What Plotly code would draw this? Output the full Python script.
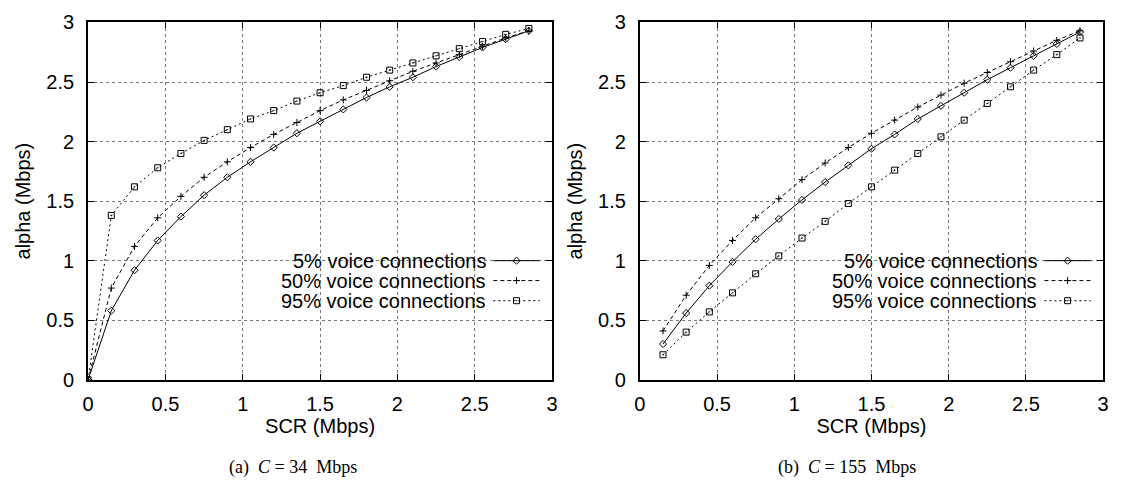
import plotly.graph_objects as go

# ---------------- data ----------------
scr_a = [0, 0.15, 0.3, 0.45, 0.6, 0.75, 0.9, 1.05, 1.2, 1.35, 1.5, 1.65, 1.8, 1.95, 2.1, 2.25, 2.4, 2.55, 2.7, 2.85]
a_voice5 = [0, 0.58, 0.92, 1.17, 1.37, 1.55, 1.70, 1.83, 1.95, 2.07, 2.17, 2.27, 2.37, 2.46, 2.54, 2.63, 2.71, 2.79, 2.86, 2.93]
a_voice50 = [0, 0.77, 1.12, 1.36, 1.54, 1.70, 1.83, 1.95, 2.06, 2.16, 2.26, 2.35, 2.43, 2.51, 2.59, 2.66, 2.73, 2.80, 2.87, 2.93]
a_voice95 = [0, 1.38, 1.62, 1.78, 1.90, 2.01, 2.10, 2.19, 2.26, 2.34, 2.41, 2.47, 2.54, 2.60, 2.66, 2.72, 2.78, 2.84, 2.90, 2.95]

scr_b = [0.15, 0.3, 0.45, 0.6, 0.75, 0.9, 1.05, 1.2, 1.35, 1.5, 1.65, 1.8, 1.95, 2.1, 2.25, 2.4, 2.55, 2.7, 2.85]
b_voice5 = [0.30, 0.56, 0.79, 0.99, 1.18, 1.35, 1.51, 1.66, 1.80, 1.94, 2.06, 2.19, 2.30, 2.41, 2.52, 2.62, 2.72, 2.82, 2.92]
b_voice50 = [0.41, 0.71, 0.96, 1.17, 1.36, 1.52, 1.68, 1.82, 1.95, 2.07, 2.18, 2.29, 2.39, 2.49, 2.58, 2.67, 2.76, 2.85, 2.93]
b_voice95 = [0.21, 0.40, 0.57, 0.73, 0.89, 1.04, 1.19, 1.33, 1.48, 1.62, 1.76, 1.90, 2.04, 2.18, 2.32, 2.46, 2.60, 2.73, 2.87]

series_names = ["5% voice connections", "50% voice connections", "95% voice connections"]
tick_vals = [0, 0.5, 1, 1.5, 2, 2.5, 3]
x_title = "SCR (Mbps)"
y_title = "alpha (Mbps)"
captions = ["(a)&nbsp;&nbsp;<i>C</i> = 34&nbsp;&nbsp;Mbps", "(b)&nbsp;&nbsp;<i>C</i> = 155&nbsp;&nbsp;Mbps"]

# ---------------- styles ----------------
styles = [
    dict(dash="solid", symbol="diamond-open", size=5.5),
    dict(dash="4px,3px", symbol="cross-thin-open", size=5),
    dict(dash="2px,3px", symbol="square-open-dot", size=6),
]
SANS = "Liberation Sans, Arial, sans-serif"
SERIF = "Liberation Serif, Times New Roman, serif"
FS = 20

fig = go.Figure()

panels = [
    ("x", "y", scr_a, [a_voice5, a_voice50, a_voice95]),
    ("x2", "y2", scr_b, [b_voice5, b_voice50, b_voice95]),
]

for xa, ya, xs, ys_list in panels:
    for ys, st in zip(ys_list, styles):
        fig.add_trace(go.Scatter(
            x=xs, y=ys, xaxis=xa, yaxis=ya, mode="lines+markers",
            line=dict(color="black", width=1, dash=st["dash"]),
            marker=dict(symbol=st["symbol"], size=st["size"], color="black",
                        line=dict(color="black", width=1)),
            showlegend=False, hoverinfo="skip"))

# gnuplot-style key: text then sample line with marker
key_rows = [1.0, 0.833, 0.664]
key_text_x = 2.585
key_line = (2.62, 2.92)
key_mark = 2.77
for xa, ya, _, _ in panels:
    for name, st, ky in zip(series_names, styles, key_rows):
        fig.add_annotation(x=key_text_x, y=ky, xref=xa, yref=ya, text=name,
                           showarrow=False, xanchor="right", yanchor="middle",
                           font=dict(family=SANS, size=FS, color="black"))
        fig.add_shape(type="line", xref=xa, yref=ya, x0=key_line[0], x1=key_line[1],
                      y0=ky, y1=ky, line=dict(color="black", width=1, dash=st["dash"]))
        fig.add_trace(go.Scatter(
            x=[key_mark], y=[ky], xaxis=xa, yaxis=ya, mode="markers",
            marker=dict(symbol=st["symbol"], size=st["size"], color="black",
                        line=dict(color="black", width=1)),
            showlegend=False, hoverinfo="skip"))

axis_common = dict(
    range=[0, 3], tickvals=tick_vals, showline=True, linecolor="black", linewidth=2,
    mirror="ticks", ticks="inside", ticklen=6, tickwidth=1, tickcolor="black",
    showgrid=True, gridcolor="#777777", gridwidth=1, griddash="dot",
    zeroline=False, tickfont=dict(family=SANS, size=FS, color="black"),
    title_font=dict(family=SANS, size=FS, color="black"),
)

W, H = 1121, 493
left_dom = [83 / W, 552 / W]
right_dom = [640.7 / W, 1109 / W]
y_dom = [1 - 386 / H, 1 - 12 / H]

fig.update_layout(
    width=W, height=H, margin=dict(l=0, r=0, t=0, b=0),
    paper_bgcolor="white", plot_bgcolor="white",
    xaxis=dict(domain=left_dom, anchor="y", title=dict(text=x_title, standoff=0),
               ticklabelstandoff=5, **axis_common),
    yaxis=dict(domain=y_dom, anchor="x", title=dict(text=y_title, standoff=10),
               ticklabelstandoff=8, **axis_common),
    xaxis2=dict(domain=right_dom, anchor="y2", title=dict(text=x_title, standoff=0),
                ticklabelstandoff=5, **axis_common),
    yaxis2=dict(domain=y_dom, anchor="x2", title=dict(text=y_title, standoff=10),
                ticklabelstandoff=8, **axis_common),
)

for cx, cap in zip([290 / W, 850 / W], captions):
    fig.add_annotation(x=cx, y=1 - 478 / H, xref="paper", yref="paper", text=cap,
                       showarrow=False, xanchor="center", yanchor="middle",
                       font=dict(family=SERIF, size=18, color="black"))

fig.write_html("out.html")
